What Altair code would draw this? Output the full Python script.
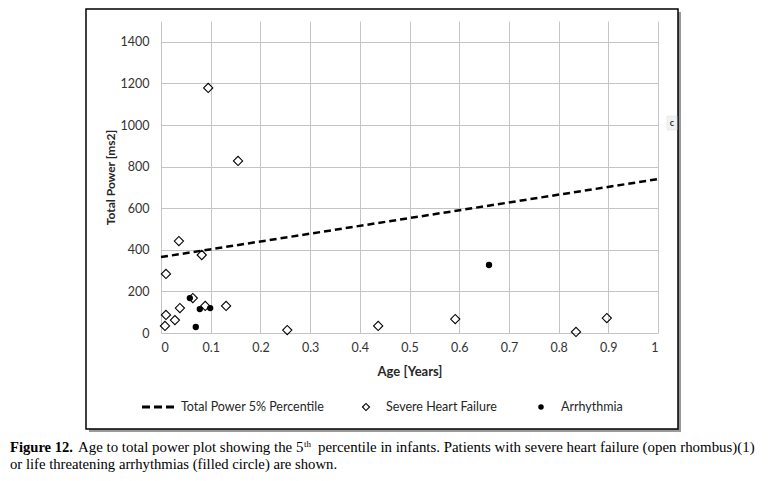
import altair as alt
import pandas as pd

# ---- data ----
shf_age = [0.095, 0.155, 0.036, 0.082, 0.010, 0.010, 0.008, 0.028, 0.038, 0.064,
           0.089, 0.131, 0.254, 0.437, 0.592, 0.835, 0.897]
shf_power = [1178, 827, 442, 375, 284, 87, 34, 62, 120, 168,
             130, 130, 14, 34, 67, 5, 72]
arr_age = [0.058, 0.070, 0.078, 0.099, 0.660]
arr_power = [168, 29, 115, 120, 327]
pct_age = [0.0, 1.0]
pct_power = [365, 740]

x_ticks = [0, 0.1, 0.2, 0.3, 0.4, 0.5, 0.6, 0.7, 0.8, 0.9, 1]
y_ticks = [0, 200, 400, 600, 800, 1000, 1200, 1400]

shf = pd.DataFrame({"age": shf_age, "power": shf_power})
arr = pd.DataFrame({"age": arr_age, "power": arr_power})
pct = pd.DataFrame({"age": pct_age, "power": pct_power})
one = pd.DataFrame({"k": [0]})

W, H = 497, 312
FONT = "Lato"
SERIF = "Liberation Serif"

xs = alt.Scale(domain=[0, 1], nice=False, zero=False)
ys = alt.Scale(domain=[0, 1500], nice=False)

x_enc = alt.X("age:Q", scale=xs, axis=alt.Axis(
    values=x_ticks, title="Age [Years]", format="~g", titleFontSize=13,
    titleX=W / 2, titleY=38, titleBaseline="middle", titleAlign="center"))
y_enc = alt.Y("power:Q", scale=ys, axis=alt.Axis(
    values=y_ticks, title="Total Power [ms2]", format="d", titleFontSize=12,
    titleX=-51, titleY=H / 2, titleAngle=-90, titleBaseline="middle", titleAlign="center"))

# frame + shadow (decoration)
shadow_r = alt.Chart(one).mark_rect(fill="#9a9a9a").encode(
    x=alt.value(517), x2=alt.value(520), y=alt.value(-9), y2=alt.value(411))
shadow_b = alt.Chart(one).mark_rect(fill="#9a9a9a").encode(
    x=alt.value(-72), x2=alt.value(520), y=alt.value(408), y2=alt.value(411))
frame = alt.Chart(one).mark_rect(fill="transparent", stroke="black", strokeWidth=1.5).encode(
    x=alt.value(-75), x2=alt.value(517), y=alt.value(-12), y2=alt.value(408))

line = alt.Chart(pct).mark_line(color="black", strokeWidth=2.5, strokeDash=[7, 4]).encode(
    x=x_enc, y=y_enc)
diam = alt.Chart(shf).mark_point(shape="diamond", filled=False, color="black",
                                 size=85, strokeWidth=1.1, opacity=1).encode(x=x_enc, y=y_enc)
circ = alt.Chart(arr).mark_circle(color="black", size=40, opacity=1).encode(x=x_enc, y=y_enc)

# legend (drawn manually below the plot)
LY = 386
leg_line = alt.Chart(one).mark_rule(color="black", strokeWidth=2.8, strokeDash=[8, 4]).encode(
    x=alt.value(-19), x2=alt.value(14), y=alt.value(LY))
leg_d = alt.Chart(one).mark_point(shape="diamond", filled=False, color="black",
                                  size=50, strokeWidth=1.1, opacity=1).encode(
    x=alt.value(205), y=alt.value(LY))
leg_c = alt.Chart(one).mark_circle(color="black", size=30, opacity=1).encode(
    x=alt.value(380), y=alt.value(LY))


def txt(s, x, y, size=12, font=FONT, weight="normal", color="#262626", align="left",
        baseline="middle"):
    return alt.Chart(one).mark_text(
        text=s, align=align, baseline=baseline, font=font, fontSize=size,
        fontWeight=weight, color=color).encode(x=alt.value(x), y=alt.value(y))


leg_t1 = txt("Total Power 5% Percentile", 20, LY, 12.5)
leg_t2 = txt("Severe Heart Failure", 225, LY, 12.5)
leg_t3 = txt("Arrhythmia", 400, LY, 12.5)

# small marker at the right edge
c_box = alt.Chart(one).mark_rect(fill="#f2f2f2", stroke="#dddddd", strokeWidth=0.5).encode(
    x=alt.value(506), x2=alt.value(516), y=alt.value(95), y2=alt.value(109))
c_txt = txt("c", 511, 102, 9, weight="bold", align="center", color="#333333")

# caption
CY1, CY2 = 431, 448
cap = [
    txt("Figure 12.", -151, CY1, 14.6, SERIF, "bold", "black", baseline="alphabetic"),
    txt("Age to total power plot showing the 5", -83, CY1, 14.9, SERIF, color="black",
        baseline="alphabetic"),
    txt("th", 143, CY1 - 5, 9, SERIF, color="black", baseline="alphabetic"),
    txt("percentile in infants. Patients with severe heart failure (open rhombus)(1)",
        157, CY1, 14.9, SERIF, color="black", baseline="alphabetic"),
    txt("or life threatening arrhythmias (filled circle) are shown.", -151, CY2, 14.7,
        SERIF, color="black", baseline="alphabetic"),
]

chart = alt.layer(
    shadow_r, shadow_b, frame, line, diam, circ,
    leg_line, leg_d, leg_c, leg_t1, leg_t2, leg_t3, c_box, c_txt, *cap
).properties(
    width=W, height=H,
    autosize=alt.AutoSizeParams(type="none"),
    padding={"left": 153, "top": 13, "right": 110, "bottom": 140},
).configure_view(stroke=None).configure_axis(
    grid=True, gridColor="#c4c4c4", gridWidth=1, domain=False, ticks=False,
    labelFont=FONT, labelFontSize=12.5, labelColor="#333333",
    titleFont=FONT, titleFontWeight="bold", titleColor="#262626",
).configure_axisX(labelPadding=8).configure_axisY(labelPadding=12)

chart.save("out.html", embed_options={"renderer": "svg", "actions": False})
